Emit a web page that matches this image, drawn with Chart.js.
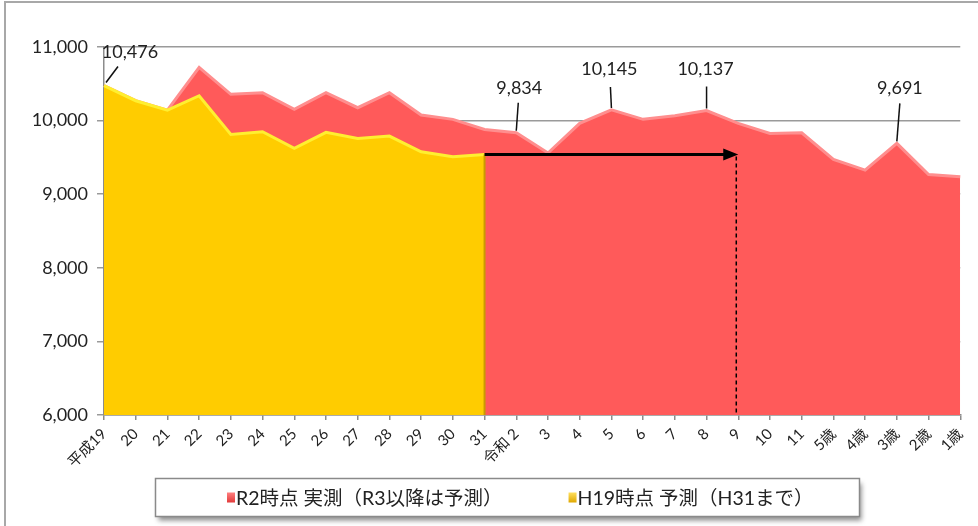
<!DOCTYPE html>
<html>
<head>
<meta charset="utf-8">
<script src="https://cdn.jsdelivr.net/npm/chart.js@4"></script>
<style>
  html, body { margin: 0; padding: 0; background: #fff; overflow: hidden; }
  #wrap { position: relative; width: 978px; height: 526px; }
  #frame { position: absolute; left: 4px; top: 1px; width: 1000px; height: 600px; border: 2px solid #a8a8a8; box-sizing: border-box; }
  canvas { position: absolute; left: 0; top: 0; }
</style>
</head>
<body>
<div id="wrap"><div id="frame"></div><canvas id="chart" width="978" height="526"></canvas></div>
<script>
const labels = ['平成19', '20', '21', '22', '23', '24', '25', '26', '27', '28', '29', '30', '31',
  '令和 2', '3', '4', '5', '6', '7', '8', '9', '10', '11', '5歳', '4歳', '3歳', '2歳', '1歳'];

// R2時点 実測（R3以降は予測）
const actualR2 = [10476, 10270, 10143, 10724, 10357, 10379, 10152, 10379, 10175, 10379, 10075, 10017, 9880,
  9834, 9560, 9962, 10145, 10017, 10066, 10137, 9962, 9826, 9835, 9472, 9327, 9691, 9268, 9236];

// H19時点 予測（H31まで）
const forecastH19 = [10476, 10270, 10143, 10338, 9812, 9848, 9622, 9840, 9758, 9790, 9576, 9508, 9541];

const seriesNames = ['R2時点 実測（R3以降は予測）', 'H19時点 予測（H31まで）'];
const yTicks = [6000, 7000, 8000, 9000, 10000, 11000];

// labelled points on the red series
const calloutIdx = [0, 13, 16, 19, 25];
// arrow: from the last H19 forecast point to "9"
const arrowFrom = 12;
const arrowTo = 20;

const NUM_FONT = "Lato, 'Noto Sans CJK JP', sans-serif";
const JP_FONT = "Lato, 'Noto Sans CJK JP', sans-serif";
const RED = '#FF5A5A';
const YELLOW = '#FFCC00';

const fmt = v => v.toLocaleString('en-US');

// offsets of the callout text / leader line from the point
const calloutPos = {
  0: { tx: 26, ty: -33, lx0: 2, ly0: -3, lx1: 14, ly1: -19 },
  13: { tx: 3, ty: -45, lx0: 0, ly0: -2, lx1: 2, ly1: -30 },
  16: { tx: -2, ty: -41, lx0: 0, ly0: -2, lx1: -1, ly1: -23 },
  19: { tx: -1, ty: -41, lx0: 0, ly0: -2, lx1: 0, ly1: -24 },
  25: { tx: 3, ty: -55, lx0: 0, ly0: -2, lx1: 3, ly1: -40 }
};

const overlay = {
  id: 'overlay',
  afterDatasetsDraw(chart) {
    const { ctx, scales: { x, y }, chartArea } = chart;
    ctx.save();

    // dark edge on the right side of the yellow area
    const ex = x.getPixelForValue(arrowFrom);
    ctx.strokeStyle = '#C99A00';
    ctx.lineWidth = 2;
    ctx.beginPath();
    ctx.moveTo(ex, y.getPixelForValue(forecastH19[arrowFrom]));
    ctx.lineTo(ex, chartArea.bottom);
    ctx.stroke();

    // arrow
    const ay = y.getPixelForValue(forecastH19[arrowFrom]);
    const ax0 = x.getPixelForValue(arrowFrom);
    const ax1 = x.getPixelForValue(arrowTo);
    ctx.strokeStyle = '#000';
    ctx.fillStyle = '#000';
    ctx.lineWidth = 3;
    ctx.beginPath();
    ctx.moveTo(ax0, ay);
    ctx.lineTo(ax1 - 12, ay);
    ctx.stroke();
    ctx.beginPath();
    ctx.moveTo(ax1, ay);
    ctx.lineTo(ax1 - 15, ay - 6);
    ctx.lineTo(ax1 - 15, ay + 6);
    ctx.closePath();
    ctx.fill();

    // dashed drop line
    ctx.lineWidth = 1.5;
    ctx.setLineDash([4, 3]);
    ctx.beginPath();
    ctx.moveTo(ax1 - 2, ay + 2);
    ctx.lineTo(ax1 - 2, chartArea.bottom);
    ctx.stroke();
    ctx.setLineDash([]);

    // callouts
    ctx.font = '18px ' + NUM_FONT;
    ctx.textAlign = 'center';
    ctx.textBaseline = 'middle';
    ctx.lineWidth = 1.5;
    calloutIdx.forEach(i => {
      const px = x.getPixelForValue(i);
      const py = y.getPixelForValue(actualR2[i]);
      const p = calloutPos[i];
      ctx.strokeStyle = '#111';
      ctx.beginPath();
      ctx.moveTo(px + p.lx0, py + p.ly0);
      ctx.lineTo(px + p.lx1, py + p.ly1);
      ctx.stroke();
      ctx.fillStyle = '#222';
      ctx.fillText(fmt(actualR2[i]), px + p.tx, py + p.ty);
    });
    ctx.restore();
  },
  afterDraw(chart) {
    // legend box
    const ctx = chart.ctx;
    const bx = 155.5, by = 478.5, bw = 704, bh = 38;
    ctx.save();
    ctx.shadowColor = 'rgba(0,0,0,0.45)';
    ctx.shadowBlur = 5;
    ctx.shadowOffsetX = 2;
    ctx.shadowOffsetY = 4;
    ctx.fillStyle = '#fff';
    ctx.fillRect(bx, by, bw, bh);
    ctx.restore();
    ctx.save();
    ctx.strokeStyle = '#8a8a8a';
    ctx.lineWidth = 1.5;
    ctx.strokeRect(bx, by, bw, bh);

    ctx.font = '19.5px ' + JP_FONT;
    ctx.textBaseline = 'middle';
    ctx.textAlign = 'left';
    const cy = by + bh / 2;
    const colors = [['#E23A3A', '#FF8080'], ['#E0A800', '#FFE060']];
    let lx = 227;
    chart.data.datasets.slice().sort((a, b) => a.legendRank - b.legendRank).forEach((ds, k) => {
      const c = ds.legendRank === 0 ? colors[0] : colors[1];
      const g = ctx.createLinearGradient(lx, cy - 5, lx, cy + 5);
      g.addColorStop(0, c[1]);
      g.addColorStop(1, c[0]);
      ctx.fillStyle = g;
      ctx.fillRect(lx, cy - 5, 8, 10);
      ctx.fillStyle = '#222';
      ctx.fillText(ds.label, lx + 9, cy + 1);
      lx += 9 + ctx.measureText(ds.label).width + 66;
    });
    ctx.restore();
  }
};

new Chart(document.getElementById('chart'), {
  type: 'line',
  data: {
    labels: labels,
    datasets: [
      {
        label: seriesNames[1],
        legendRank: 1,
        data: forecastH19,
        backgroundColor: YELLOW,
        borderColor: '#FFEF30',
        borderWidth: 3,
        fill: 'start',
        pointRadius: 0,
        tension: 0
      },
      {
        label: seriesNames[0],
        legendRank: 0,
        data: actualR2,
        backgroundColor: RED,
        borderColor: '#FF8E8E',
        borderWidth: 3,
        fill: 'start',
        pointRadius: 0,
        tension: 0
      }
    ]
  },
  options: {
    responsive: false,
    animation: false,
    layout: { padding: { left: 0, right: 17, top: 47, bottom: 51 } },
    plugins: {
      legend: { display: false },
      tooltip: { enabled: false }
    },
    scales: {
      x: {
        offset: false,
        afterFit: s => { s.height = 60; },
        border: { color: '#8c8c8c', width: 1.5 },
        grid: { drawOnChartArea: false, drawTicks: true, tickLength: 5, color: '#8c8c8c', lineWidth: 1.5 },
        ticks: {
          autoSkip: false,
          minRotation: 45,
          maxRotation: 45,
          padding: 5,
          color: '#222',
          font: { family: JP_FONT, size: 15 }
        }
      },
      y: {
        min: yTicks[0],
        max: yTicks[yTicks.length - 1],
        afterFit: s => { s.width = 104; },
        afterBuildTicks: s => { s.ticks = yTicks.map(v => ({ value: v })); },
        border: { color: '#8c8c8c', width: 1.5 },
        grid: { color: '#9a9a9a', lineWidth: 1.5, tickLength: 7 },
        ticks: {
          padding: 9,
          color: '#222',
          font: { family: NUM_FONT, size: 18 },
          callback: v => fmt(v)
        }
      }
    }
  },
  plugins: [overlay]
});
</script>
</body>
</html>
